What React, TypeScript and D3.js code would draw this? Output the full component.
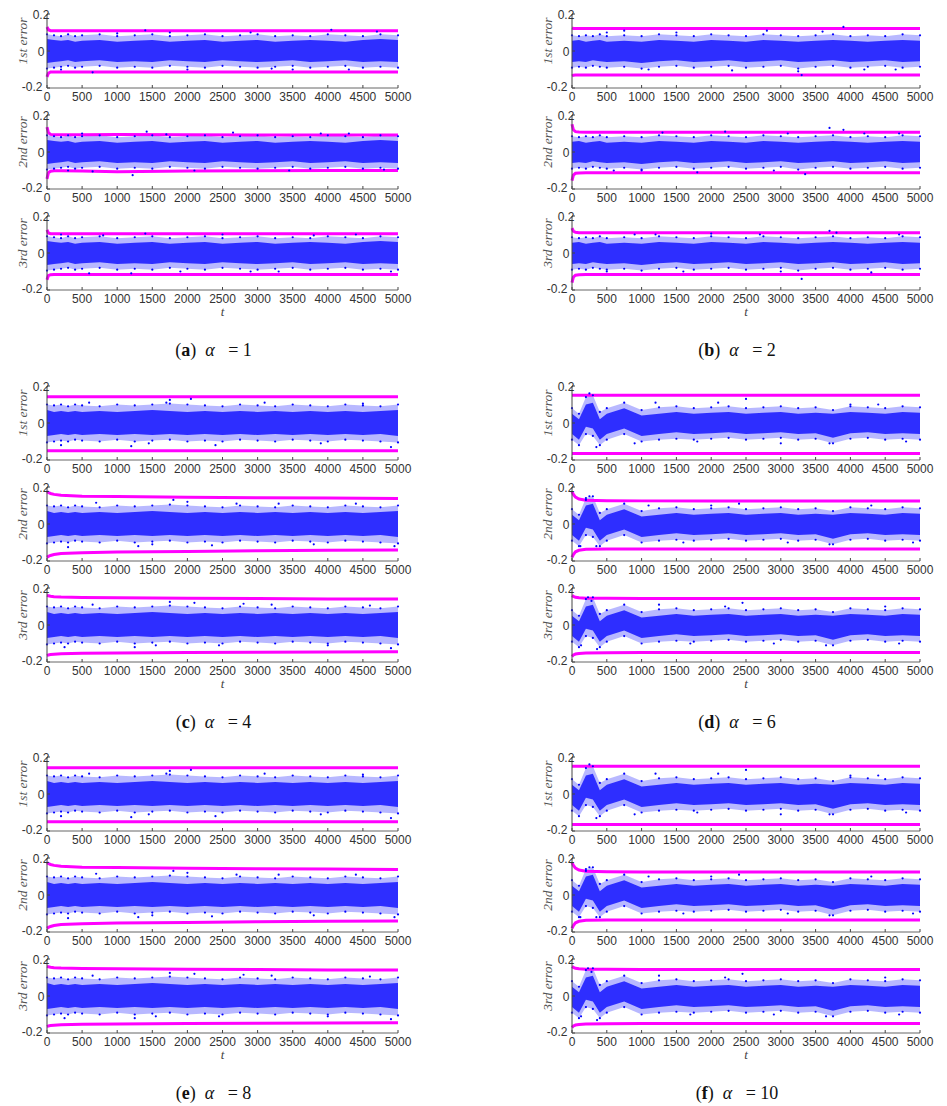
import React from 'react';
import * as d3 from 'd3';

// sample times of the scatter envelopes and of the bounds
const tGrid = [0, 100, 200, 300, 400, 500, 750, 1000, 1250, 1500, 1750, 2000, 2250, 2500, 2750, 3000, 3250, 3500, 3750, 4000, 4250, 4500, 4750, 5000];
const boundT = [0, 20, 50, 100, 200, 500, 1000, 2000, 3000, 4000, 5000];

const xTicks = [0, 500, 1000, 1500, 2000, 2500, 3000, 3500, 4000, 4500, 5000];
const yTicks = [-0.2, 0, 0.2];
const yTickLabels = ['-0.2', '0', '0.2'];
const subLabels = ['1st error', '2nd error', '3rd error'];

// dense core / sparse fringe of the error scatter, per panel
const aCoreHi = [.065, .06, .055, .06, .05, .055, .06, .05, .055, .06, .05, .055, .06, .05, .055, .06, .05, .055, .06, .055, .05, .06, .065, .06];
const aCoreLo = [-.065, -.06, -.055, -.05, -.06, -.055, -.05, -.06, -.055, -.06, -.05, -.055, -.06, -.05, -.055, -.06, -.055, -.05, -.06, -.055, -.05, -.06, -.055, -.06];
const aOuterHi = [.09, .085, .08, .09, .08, .085, .09, .08, .085, .09, .08, .085, .09, .08, .085, .09, .08, .085, .08, .09, .085, .08, .09, .085];
const aOuterLo = [-.095, -.09, -.085, -.08, -.09, -.085, -.08, -.09, -.085, -.09, -.08, -.085, -.09, -.08, -.085, -.09, -.085, -.08, -.09, -.085, -.08, -.09, -.085, -.09];

const bCoreHi = [.055, .06, .05, .055, .06, .05, .055, .05, .06, .055, .05, .06, .055, .05, .06, .055, .05, .055, .06, .055, .05, .055, .06, .055];
const bCoreLo = [-.06, -.055, -.06, -.05, -.055, -.06, -.055, -.065, -.055, -.05, -.06, -.055, -.05, -.06, -.055, -.05, -.06, -.055, -.05, -.06, -.055, -.05, -.06, -.055];
const bOuterHi = [.085, .08, .085, .08, .09, .08, .085, .08, .09, .085, .08, .09, .085, .08, .09, .085, .08, .085, .09, .08, .085, .08, .09, .085];
const bOuterLo = [-.09, -.085, -.09, -.08, -.085, -.09, -.085, -.095, -.085, -.08, -.09, -.085, -.08, -.09, -.085, -.08, -.095, -.085, -.08, -.09, -.085, -.08, -.09, -.085];

const cCoreHi = [.07, .06, .065, .06, .065, .06, .065, .06, .065, .07, .065, .06, .065, .06, .065, .06, .065, .06, .065, .06, .065, .06, .065, .07];
const cCoreLo = [-.07, -.065, -.06, -.065, -.06, -.065, -.06, -.065, -.06, -.065, -.06, -.065, -.06, -.065, -.06, -.065, -.06, -.065, -.06, -.065, -.06, -.065, -.06, -.07];
const cOuterHi = [.1, .095, .1, .09, .1, .095, .09, .1, .095, .1, .105, .1, .095, .09, .1, .095, .09, .1, .095, .09, .1, .095, .09, .1];
const cOuterLo = [-.105, -.1, -.095, -.1, -.09, -.095, -.1, -.09, -.1, -.095, -.09, -.1, -.095, -.1, -.09, -.095, -.1, -.09, -.095, -.1, -.09, -.095, -.1, -.105];

const dCoreHi = [.05, .02, .1, .11, .02, .05, .08, .04, .05, .06, .05, .055, .06, .05, .055, .06, .05, .055, .05, .06, .055, .05, .06, .055];
const dCoreLo = [-.06, -.09, -.02, -.03, -.09, -.06, -.03, -.07, -.06, -.05, -.06, -.055, -.05, -.06, -.055, -.05, -.06, -.055, -.08, -.055, -.05, -.06, -.055, -.06];
const dOuterHi = [.08, .05, .14, .15, .06, .08, .11, .07, .085, .09, .08, .085, .09, .08, .085, .09, .08, .085, .07, .09, .085, .08, .09, .085];
const dOuterLo = [-.09, -.12, -.06, -.07, -.12, -.09, -.06, -.1, -.09, -.085, -.09, -.085, -.08, -.09, -.085, -.08, -.09, -.085, -.11, -.085, -.08, -.09, -.085, -.09];

// upper / lower bounds (magenta)
const a1Up = [.13, .115, .11, .11, .11, .11, .11, .11, .11, .11, .11];
const a1Lo = [-.14, -.12, -.113, -.113, -.113, -.113, -.113, -.113, -.113, -.113, -.113];
const a2Up = [.135, .105, .095, .093, .093, .093, .094, .093, .092, .092, .092];
const a2Lo = [-.145, -.112, -.104, -.102, -.102, -.103, -.107, -.103, -.101, -.1, -.1];
const a3Up = [.125, .108, .104, .104, .104, .104, .104, .104, .104, .104, .104];
const a3Lo = [-.145, -.122, -.117, -.116, -.116, -.116, -.116, -.116, -.116, -.116, -.116];
const b1Up = [.125, .122, .121, .121, .121, .121, .121, .121, .121, .121, .121];
const b1Lo = [-.135, -.131, -.13, -.13, -.13, -.13, -.13, -.13, -.13, -.13, -.13];
const b2Up = [.15, .12, .11, .108, .107, .107, .107, .107, .107, .107, .107];
const b2Lo = [-.155, -.125, -.115, -.113, -.112, -.112, -.112, -.112, -.112, -.112, -.112];
const b3Up = [.135, .118, .112, .11, .11, .11, .11, .11, .11, .11, .11];
const b3Lo = [-.16, -.13, -.12, -.117, -.116, -.116, -.116, -.116, -.116, -.116, -.116];
const c1Up = [.142, .142, .142, .142, .142, .142, .142, .142, .142, .142, .142];
const c1Lo = [-.15, -.15, -.15, -.15, -.15, -.15, -.15, -.15, -.15, -.15, -.15];
const c2Up = [.175, .17, .165, .16, .155, .15, .148, .145, .142, .14, .138];
const c2Lo = [-.18, -.175, -.17, -.165, -.16, -.155, -.152, -.148, -.145, -.142, -.14];
const c3Up = [.16, .158, .155, .153, .151, .149, .147, .145, .143, .141, .14];
const c3Lo = [-.165, -.162, -.16, -.158, -.156, -.153, -.151, -.149, -.147, -.146, -.145];
const d1Up = [.15, .15, .15, .15, .15, .15, .15, .15, .15, .15, .15];
const d1Lo = [-.165, -.165, -.165, -.165, -.165, -.165, -.165, -.165, -.165, -.165, -.165];
const d2Up = [.175, .16, .145, .135, .128, .126, .125, .125, .125, .125, .125];
const d2Lo = [-.18, -.165, -.15, -.142, -.137, -.135, -.135, -.135, -.135, -.135, -.135];
const d3Up = [.16, .155, .15, .147, .145, .144, .143, .143, .143, .143, .143];
const d3Lo = [-.17, -.162, -.157, -.154, -.152, -.15, -.149, -.149, -.149, -.149, -.149];

// isolated points outside the dense band: [t, error]
const a1Dots = [[1400, .112], [4050, .115], [650, -.115], [2000, -.1], [3500, -.1], [4700, .105], [200, -.1], [2900, .1], [1000, .095], [3200, -.095], [4300, -.1], [1750, .1]];
const a2Dots = [[1420, .11], [650, -.105], [1220, -.125], [2650, .105], [3450, -.1], [4300, .1], [500, .1], [2100, -.1], [3900, .1], [4800, -.095], [1700, .095], [300, -.1]];
const a3Dots = [[1400, .105], [600, -.11], [1200, -.11], [2500, .1], [3300, -.1], [4400, .1], [1900, -.1], [3800, .095], [4900, -.1], [800, .095], [2900, -.1], [200, .1]];
const b1Dots = [[3900, .13], [3300, -.13], [3250, -.11], [2800, .11], [1500, .1], [750, .11], [4200, -.1], [4650, -.1], [2300, -.105], [1100, -.1], [3600, .105], [500, .1]];
const b2Dots = [[3700, .13], [3900, .12], [3350, -.12], [2200, .11], [1800, -.11], [4200, .1], [600, -.1], [1300, .105], [2900, -.1], [4700, .1], [3100, .1], [1000, -.1]];
const b3Dots = [[3300, -.14], [3700, .12], [3800, .11], [2700, .1], [1600, -.1], [4300, -.105], [900, .1], [2000, .105], [500, -.1], [4700, .1], [3000, -.1], [1200, .1]];
const c1Dots = [[1750, .125], [1700, .11], [2050, .13], [1200, -.125], [200, -.12], [4900, -.13], [2400, -.12], [3100, .11], [3900, -.11], [600, .11], [4500, .105], [1450, -.11]];
const c2Dots = [[1800, .13], [2000, .12], [1300, -.12], [300, -.125], [4950, -.12], [2350, -.115], [3300, .11], [3800, -.11], [700, .115], [4400, .11], [1500, -.11], [2700, .11]];
const c3Dots = [[1750, .125], [2100, .12], [1250, -.12], [250, -.12], [4900, -.125], [2450, -.11], [3200, .11], [4000, -.11], [650, .11], [4600, .105], [1550, -.11], [2800, .115]];
const d1Dots = [[250, .16], [350, -.13], [2500, .13], [3700, -.11], [1800, -.1], [4400, .1], [1200, .11], [3000, -.11], [4800, -.1], [2100, .11], [900, -.11], [4000, .1]];
const d2Dots = [[250, .15], [200, .13], [350, -.12], [120, -.12], [2400, .11], [3700, -.11], [1600, -.1], [4300, .1], [1100, .1], [3100, -.1], [4900, -.1], [2000, .1]];
const d3Dots = [[230, .15], [280, .13], [360, -.13], [130, -.11], [2450, .12], [3650, -.11], [1700, -.1], [4500, .1], [1250, .11], [2900, -.1], [4700, -.1], [2200, .1]];

const envA = { coreHi: aCoreHi, coreLo: aCoreLo, outerHi: aOuterHi, outerLo: aOuterLo };
const envB = { coreHi: bCoreHi, coreLo: bCoreLo, outerHi: bOuterHi, outerLo: bOuterLo };
const envC = { coreHi: cCoreHi, coreLo: cCoreLo, outerHi: cOuterHi, outerLo: cOuterLo };
const envD = { coreHi: dCoreHi, coreLo: dCoreLo, outerHi: dOuterHi, outerLo: dOuterLo };

const subsA = [{ up: a1Up, lo: a1Lo, dots: a1Dots }, { up: a2Up, lo: a2Lo, dots: a2Dots }, { up: a3Up, lo: a3Lo, dots: a3Dots }];
const subsB = [{ up: b1Up, lo: b1Lo, dots: b1Dots }, { up: b2Up, lo: b2Lo, dots: b2Dots }, { up: b3Up, lo: b3Lo, dots: b3Dots }];
const subsC = [{ up: c1Up, lo: c1Lo, dots: c1Dots }, { up: c2Up, lo: c2Lo, dots: c2Dots }, { up: c3Up, lo: c3Lo, dots: c3Dots }];
const subsD = [{ up: d1Up, lo: d1Lo, dots: d1Dots }, { up: d2Up, lo: d2Lo, dots: d2Dots }, { up: d3Up, lo: d3Lo, dots: d3Dots }];

const panels = [
  { tag: 'a', alpha: '1', col: 0, row: 0, env: envA, subs: subsA },
  { tag: 'b', alpha: '2', col: 1, row: 0, env: envB, subs: subsB },
  { tag: 'c', alpha: '4', col: 0, row: 1, env: envC, subs: subsC },
  { tag: 'd', alpha: '6', col: 1, row: 1, env: envD, subs: subsD },
  { tag: 'e', alpha: '8', col: 0, row: 2, env: envC, subs: subsC },
  { tag: 'f', alpha: '10', col: 1, row: 2, env: envD, subs: subsD },
];

// layout
const colX = [[47, 398], [572, 920]];
const rowY = [0, 372, 743];
const subY = [[14, 88], [115, 189], [216, 290]];

const BLUE = '#0000ff';
const MAGENTA = '#ff00ff';
const tickFont = '"Liberation Sans", Arial, sans-serif';
const serif = '"Liberation Serif", "DejaVu Serif", serif';

function Subplot({ x0, x1, top, bot, env, sub, label, showT }) {
  const x = d3.scaleLinear().domain([0, 5000]).range([x0, x1]);
  const y = d3.scaleLinear().domain([-0.2, 0.2]).range([bot, top]);

  const band = (hi, lo) => d3.area()
    .x((d, i) => x(tGrid[i]))
    .y0((d, i) => y(lo[i]))
    .y1(d => y(d))(hi);

  const bound = d3.line()
    .x((d, i) => x(boundT[i]))
    .y(d => y(d));

  return (
    <g>
      <path d={band(env.outerHi, env.outerLo)} fill={BLUE} fillOpacity={0.28} />
      <path d={band(env.coreHi, env.coreLo)} fill={BLUE} fillOpacity={0.75} />
      <path d={bound(sub.up)} fill="none" stroke={MAGENTA} strokeWidth={3} />
      <path d={bound(sub.lo)} fill="none" stroke={MAGENTA} strokeWidth={3} />
      {env.outerHi.map((v, i) => <circle key={'h' + i} cx={x(tGrid[i])} cy={y(v)} r={1.1} fill={BLUE} />)}
      {env.outerLo.map((v, i) => <circle key={'l' + i} cx={x(tGrid[i])} cy={y(v)} r={1.1} fill={BLUE} />)}
      {sub.dots.map((d, i) => <circle key={'o' + i} cx={x(d[0])} cy={y(d[1])} r={1.1} fill={BLUE} />)}

      <line x1={x0} x2={x0} y1={top} y2={bot} stroke="#444" />
      <line x1={x0} x2={x1} y1={bot} y2={bot} stroke="#666" />
      {xTicks.map(t => (
        <g key={t}>
          <line x1={x(t)} x2={x(t)} y1={bot} y2={bot - 3} stroke="#444" />
          <text x={x(t)} y={bot + 13} textAnchor="middle" fontFamily={tickFont} fontSize={12} fill="#333">{t}</text>
        </g>
      ))}
      {yTicks.map((v, i) => (
        <g key={v}>
          <line x1={x0} x2={x0 + 3} y1={y(v)} y2={y(v)} stroke="#444" />
          {v < 0
            ? <text x={x0 - 4.5} y={y(v) + 3} textAnchor="end" fontFamily={tickFont} fontSize={12} fill="#333">{yTickLabels[i]}</text>
            : <text x={x0 - 6} y={y(v) + 4.5} textAnchor="middle" fontFamily={tickFont} fontSize={12} fill="#333">{yTickLabels[i]}</text>}
        </g>
      ))}
      <text transform={`translate(${x0 - 20},${(top + bot) / 2 - 10}) rotate(-90)`} textAnchor="middle"
        fontFamily={serif} fontStyle="italic" fontSize={13.5} fill="#555">{label}</text>
      {showT && (
        <text x={(x0 + x1) / 2} y={bot + 26} textAnchor="middle" fontFamily={serif} fontStyle="italic" fontSize={13} fill="#444">t</text>
      )}
    </g>
  );
}

export default function App() {
  return (
    <svg width={947} height={1106} style={{ position: 'absolute', left: 0, top: 0, background: '#fff' }}>
      {panels.map(p => {
        const [x0, x1] = colX[p.col];
        const oy = rowY[p.row];
        const cx = (x0 + x1) / 2 - 9;
        return (
          <g key={p.tag}>
            {p.subs.map((s, i) => (
              <Subplot key={i} x0={x0} x1={x1} top={oy + subY[i][0]} bot={oy + subY[i][1]}
                env={p.env} sub={s} label={subLabels[i]} showT={i === 2} />
            ))}
            <text x={cx} y={oy + 356} textAnchor="middle" fontFamily={serif} fontSize={18} fill="#111" style={{ whiteSpace: 'pre' }}>
              <tspan>(</tspan><tspan fontWeight="bold">{p.tag}</tspan><tspan>)  </tspan>
              <tspan fontStyle="italic">α</tspan><tspan>{'   = ' + p.alpha}</tspan>
            </text>
          </g>
        );
      })}
    </svg>
  );
}
